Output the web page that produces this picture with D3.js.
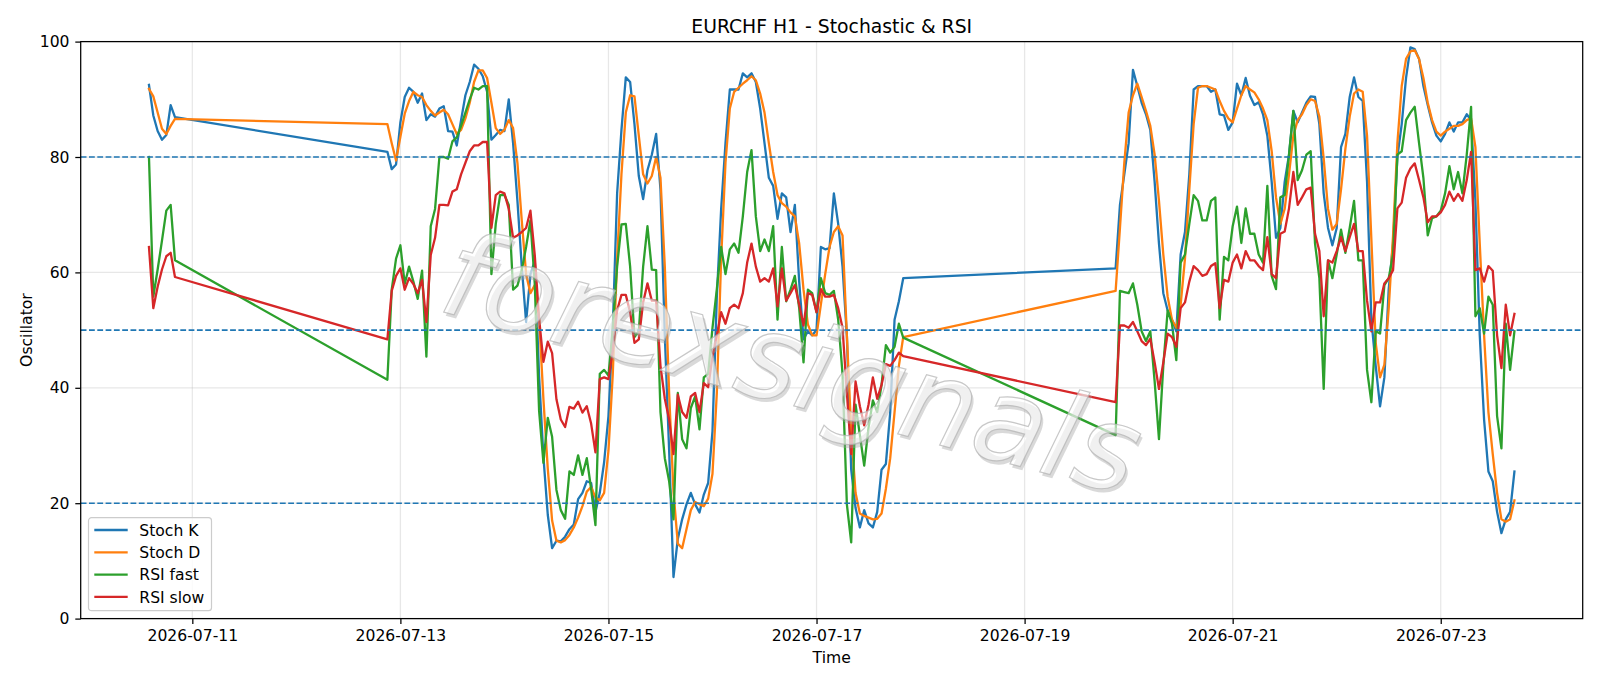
<!DOCTYPE html>
<html>
<head>
<meta charset="utf-8">
<script src="https://cdn.jsdelivr.net/npm/d3@7"></script>
<style>
	body { margin: 0; background: #fff; }
	svg { display: block; font-family: "DejaVu Sans", sans-serif; }
</style>
</head>
<body>
<svg id="chart"></svg>
<script>
// hourly bars, three trading blocks (weekends are skipped in the feed)
const segStarts = ["2026-07-10T14:00:00Z", "2026-07-12T21:00:00Z", "2026-07-19T21:00:00Z"];
const segHours = [7, 120, 93];

const stochK = [
	92.5, 87.2, 84.5, 83.0, 83.8, 89.0, 86.9,
	80.9, 77.9, 78.7,
	86, 90.4, 92, 91.3, 89.4, 91, 86.4, 87.4, 87, 88.4, 88.8, 84.5, 84.4, 82, 86.4, 90.7, 93, 96, 95.3, 94, 91.3, 83, 83.8, 84.7,
	84.5, 90, 82.4, 72.4, 61, 51.4, 59.7, 62, 42, 28, 18, 12.2, 13.5, 13.4, 14.2, 15.5, 16.3, 20.7, 21.8, 23.8, 23.5, 18.5, 21.8, 27.1,
	35.1, 50.4, 73.7, 84.7, 93.8, 93, 85.7, 76.7, 72.7, 77.7, 80.4, 84, 74.4, 49.1, 29.1, 7.2, 13.8, 17.2, 19.8, 21.8, 19.8, 18.4, 21.5, 23.5,
	32.5, 55.8, 71, 82.4, 91.7, 91.7, 91.7, 94.5, 93.8, 94.5, 93, 88.4, 82.4, 76.4, 75, 69.3, 73.7, 73, 67, 71.7, 58.4, 48.4, 49.8, 49.1,
	50, 64.4, 64, 64.2, 73.7, 68.4, 61, 49, 25.8, 19.2, 15.8, 18.8, 16.5, 15.8, 18.5, 25.8, 26.8, 35.8, 51.8, 55, 59,
	60.7, 71.7, 77,
	82.4, 95.1, 92.3, 89.4, 87.4, 84.7, 75.7, 65, 56.4, 53.4, 51.8, 49.8, 63.1, 67, 77, 91.7, 92.3, 92.3, 92.3, 91.3, 91.7, 87.4, 87.2, 84.7,
	86, 92.7, 90.7, 93.7, 90.6, 89, 89.5, 87.4, 83.7, 75.7, 66, 67.7, 75.7, 80.4, 88, 86, 87.7, 89.4, 90.5, 90.4, 85.7, 73.7, 67.7, 64.7,
	67.7, 81.7, 84, 90.4, 93.8, 90.4, 89.7, 75.7, 51.8, 43.8, 36.8, 41.8, 57.1, 65, 80, 85.7, 93.7, 99, 98.7, 97, 92.3, 89, 86, 83.7,
	82.7, 84, 86, 84.4, 86, 86, 87.4, 86.4, 72.4, 49.1, 34.5, 25.5, 23.8, 18.5, 14.8, 17.2, 18.5, 25.5
];

const stochD = [
	91.8, 90.5, 87.7, 84.9, 84.0, 85.4, 86.6,
	85.7, 82.4, 79.4,
	83.5, 87.5, 89.7, 91.3, 90.7, 90.4, 89, 88, 87.2, 87.7, 88.2, 87.4, 85.7, 84, 84.7, 86.7, 89.4, 93, 95, 95, 93.7, 89.4, 85, 84,
	84.7, 86.4, 85, 79, 69, 59.7, 56.4, 57.8, 52, 38, 26, 17, 13.5, 13.2, 13.6, 14.5, 15.8, 17.5, 19.5, 22, 22.8, 21, 20.5, 21.8,
	29.1, 42.4, 62.4, 77, 87.7, 90.7, 90.5, 83.7, 77, 75.4, 76.7, 80, 76.4, 61, 39, 22, 13, 12.2, 15.5, 18.8, 20.2, 19.8, 19.5, 20.8,
	25.1, 39.1, 62.4, 79, 88.4, 91.3, 92, 92.7, 93.3, 94, 93.3, 91, 87.7, 82.4, 77.4, 73.4, 72, 71.4, 70.4, 69.7, 65, 57, 51, 49.1,
	49.1, 54.4, 59.7, 64.4, 67, 68, 66.4, 49.1, 32.5, 21.8, 18.2, 17.8, 17.5, 17.2, 17.3, 18.2, 22.5, 27.8, 35.8, 43.8, 48.8,
	56.8, 67.7, 79,
	87.7, 90.7, 92.7, 90.4, 88, 85.4, 80.4, 72.4, 63.1, 55.8, 51.8, 50.4, 54.4, 62.4, 74.4, 85.7, 92, 92.3, 92.3, 92, 91.7, 89.7, 88, 86.7,
	86, 88.4, 90.7, 92.3, 91.7, 91.2, 90, 88.4, 86.4, 81, 73, 68.4, 71, 77, 83.7, 86.4, 87.4, 89, 90, 89.7, 87, 79.7, 71, 67.4,
	68.4, 74.4, 81.4, 87, 91, 91.7, 91.3, 83.7, 65.7, 47.8, 41.8, 44, 53.8, 66.4, 82.4, 92.3, 97, 98.3, 98.5, 97, 93.7, 89.4, 86.4, 84.4,
	83.7, 84.4, 84.9, 85.4, 85.4, 85.7, 86.4, 86.7, 81.7, 65, 49.1, 35.8, 28.5, 21.8, 17.2, 16.8, 17.2, 20.5
];

const rsiFast = [
	80.0, 55.8, 60.5, 65.5, 70.7, 71.7, 62.1,
	41.4, 57, 62.4,
	64.7, 58, 61, 58.4, 55.4, 60.3, 45.4, 68, 71, 80, 80, 79.7, 82.7, 83.4, 85.4, 87.7, 90, 92, 91.7, 92.3, 92.3, 59.7, 68.4, 73.4,
	73.4, 71.7, 57, 57.7, 60.4, 64.4, 69, 58, 36, 27, 34.8, 31.5, 22.3, 18.8, 17.3, 25.5, 24.9, 28.3, 24.9, 27.8, 22.5, 16.2, 42.4, 43.1,
	42.1, 50.4, 61, 68.3, 68.4, 61, 48.8, 49.8, 61, 68, 60.5, 60.4, 35.8, 27.8, 23.8, 17.2, 39.1, 31.1, 29.5, 36.5, 38.5, 32.8, 41.8, 42.4,
	50.4, 57.1, 64.4, 59.7, 64, 65, 63.4, 69.7, 77.4, 81.2, 69.7, 63.7, 65.7, 63.7, 68, 51.8, 64.4, 55, 57, 59.4, 53.8, 44.4, 57, 56.4,
	53.1, 59, 56.4, 56.1, 56.8, 51.8, 42.4, 19.8, 13.2, 37.1, 31.8, 26.5, 33.1, 37.8, 35.8, 40.5, 47.4, 46.1, 47.1, 51.1, 48.7,
	31.8, 56.8, 56.6,
	56.4, 58.1, 54.4, 49.8, 48.1, 49.8, 41.1, 31.1, 43.8, 53.4, 51.1, 44.8, 61.7, 63.1, 68.4, 73.4, 72.4, 69, 69, 72.4, 73, 51.8, 62.7, 62.1,
	68, 71.4, 65.1, 71.1, 66.7, 66.7, 63.1, 61.7, 75, 59.4, 57.1, 73, 73.4, 80.4, 88, 76, 77.7, 80.4, 81, 65, 59, 39.8, 62.1, 59,
	63.1, 67.4, 63.4, 67.7, 72.4, 62.1, 62.1, 43.1, 37.5, 49.8, 49.4, 57.8, 59, 63.1, 80.4, 81, 86.4, 87.7, 88.7, 82.4, 76.4, 66.4, 69.4, 69.7,
	70.7, 73.7, 78.4, 74.4, 77.4, 73.7, 80.4, 88.7, 52.4, 53.8, 49.4, 55.8, 54.4, 35.1, 29.5, 51.1, 43.1, 49.8
];

const rsiSlow = [
	64.4, 53.8, 57.5, 60.5, 62.8, 63.4, 59.2,
	48.4, 56.8, 59.4,
	60.7, 57, 59, 58, 56.4, 58.7, 51.4, 63, 66, 71.7, 71.7, 71.6, 74, 74.4, 77, 79, 81, 82, 82, 82.6, 82.6, 67.7, 73.4, 74,
	73.7, 71, 66, 66.4, 67, 67.7, 70.7, 63, 52, 44.5, 48, 46, 38, 34.5, 33.2, 36.7, 36.4, 37.6, 35.7, 36.8, 33.8, 28.8, 41.5, 41.8,
	41.5, 46.4, 53.4, 56.1, 56.1, 53.1, 47.8, 48.4, 54.8, 58.1, 55.1, 55.1, 43.8, 38.1, 34.5, 28.5, 38.8, 35.8, 34.8, 38.5, 39.1, 35.8, 40.8, 40.1,
	45.4, 49.1, 53.1, 51.1, 53.8, 54.4, 53.8, 56.4, 61.7, 65, 61, 58.4, 59, 58.4, 60.7, 54.1, 60.7, 55.1, 56.4, 57.8, 54.4, 50.8, 56.4, 56.1,
	53.1, 57.1, 55.8, 55.8, 56.1, 53.8, 50.4, 39.1, 28.5, 41.1, 36.8, 33.5, 37.1, 41.8, 38.1, 40.5, 44.1, 43.8, 44.8, 46.1, 45.5,
	37.5, 50.8, 50.8,
	50.4, 51.4, 49.8, 48.1, 47.4, 48.5, 44.4, 39.8, 44.4, 49.4, 48.8, 47.1, 53.8, 54.8, 58.4, 61.1, 60.4, 59.4, 59.7, 61.1, 61.6, 53.8, 58.7, 58.4,
	61.7, 63.1, 60.7, 63.7, 62.1, 62.1, 61.1, 60.4, 66.1, 59.7, 59, 66.7, 67.1, 71.1, 77.4, 71.7, 73, 74.4, 74.7, 66.7, 63.7, 52.4, 62.1, 61.7,
	63.7, 66.1, 63.7, 66.1, 68.4, 63.7, 63.7, 55.1, 49.8, 54.8, 54.8, 58.1, 59, 60.4, 71.1, 72.1, 76.4, 78, 78.9, 76, 73, 68.7, 69.7, 69.7,
	70.4, 71.7, 74, 72.4, 73.6, 72.4, 76, 80.9, 60.4, 60.7, 58.4, 61.1, 60.3, 49.1, 43.4, 54.4, 49.1, 52.8
];

const seriesNames = ["Stoch K", "Stoch D", "RSI fast", "RSI slow"];
const seriesColors = ["#1f77b4", "#ff7f0e", "#2ca02c", "#d62728"];
const levels = [80, 50, 20];
const xTickDates = ["2026-07-11", "2026-07-13", "2026-07-15", "2026-07-17", "2026-07-19", "2026-07-21", "2026-07-23"];
const yTicks = [0, 20, 40, 60, 80, 100];

const svgWidth = 1600, svgHeight = 686;
const plotLeft = 80.7, plotRight = 1582.7, plotTop = 41.6, plotBottom = 618.6;

// timestamps for every bar
let times = [];
segStarts.forEach((s, i) => {
	let t0 = new Date(s);
	for (let h = 0; h < segHours[i]; h++)
		times.push(d3.utcHour.offset(t0, h));
});

let svg = d3.select("#chart")
	.attr("width", svgWidth)
	.attr("height", svgHeight);

let tMin = times[0], tMax = times[times.length - 1];
let pad = (tMax - tMin) * 0.05;
let x = d3.scaleUtc()
	.domain([new Date(+tMin - pad), new Date(+tMax + pad)])
	.range([plotLeft, plotRight]);
let y = d3.scaleLinear()
	.domain([0, 100])
	.range([plotBottom, plotTop]);

let tickDates = xTickDates.map(d => new Date(d + "T00:00:00Z"));

// grid
let grid = svg.append("g");
grid.selectAll("line.gx")
	.data(tickDates)
	.join("line")
	.attr("class", "gx")
	.attr("x1", d => x(d)).attr("x2", d => x(d))
	.attr("y1", plotTop).attr("y2", plotBottom);
grid.selectAll("line.gy")
	.data(yTicks)
	.join("line")
	.attr("class", "gy")
	.attr("x1", plotLeft).attr("x2", plotRight)
	.attr("y1", d => y(d)).attr("y2", d => y(d));
grid.selectAll("line")
	.attr("stroke", "#b0b0b0")
	.attr("stroke-opacity", 0.3)
	.attr("stroke-width", 1.25);

// series
let allSeries = [stochK, stochD, rsiFast, rsiSlow];
let lineGenerator = d3.line()
	.x((d, i) => x(times[i]))
	.y(d => y(d));

svg.append("g")
	.selectAll("path")
	.data(allSeries)
	.join("path")
	.attr("d", d => lineGenerator(d))
	.attr("fill", "none")
	.attr("stroke", (d, i) => seriesColors[i])
	.attr("stroke-width", 2.3)
	.attr("stroke-linejoin", "round")
	.attr("stroke-linecap", "square");

// overbought / mid / oversold
svg.append("g")
	.selectAll("line")
	.data(levels)
	.join("line")
	.attr("x1", plotLeft).attr("x2", plotRight)
	.attr("y1", d => y(d)).attr("y2", d => y(d))
	.attr("stroke", "#1f77b4")
	.attr("stroke-width", 1.55)
	.attr("stroke-dasharray", "5.8,2.5");

// watermark
let wm = svg.append("g")
	.attr("transform", "translate(792,363) rotate(15)")
	.attr("font-size", 118)
	.attr("font-style", "italic")
	.attr("text-anchor", "middle")
	.attr("dominant-baseline", "central");
wm.append("text")
	.attr("x", 3).attr("y", 3)
	.attr("fill", "#a0a0a0")
	.attr("fill-opacity", 0.4)
	.text("forexsignals");
wm.append("text")
	.attr("fill", "#ffffff")
	.attr("fill-opacity", 0.6)
	.attr("stroke", "#b0b0b0")
	.attr("stroke-opacity", 0.7)
	.attr("stroke-width", 1.2)
	.text("forexsignals");

// axes
let xAxis = svg.append("g")
	.attr("transform", "translate(0," + plotBottom + ")")
	.call(d3.axisBottom(x).tickValues(tickDates).tickFormat(d3.utcFormat("%Y-%m-%d")).tickSizeOuter(0).tickSize(5.4).tickPadding(5.8));
let yAxis = svg.append("g")
	.attr("transform", "translate(" + plotLeft + ",0)")
	.call(d3.axisLeft(y).tickValues(yTicks).tickSizeOuter(0).tickSize(5.4).tickPadding(5.8));
[xAxis, yAxis].forEach(a => {
	a.select(".domain").remove();
	a.selectAll("line").attr("stroke", "#000").attr("stroke-width", 1.25);
	a.selectAll("text").attr("font-size", 15.6).attr("fill", "#000").attr("font-family", "DejaVu Sans");
});

// frame
svg.append("rect")
	.attr("x", plotLeft).attr("y", plotTop)
	.attr("width", plotRight - plotLeft).attr("height", plotBottom - plotTop)
	.attr("fill", "none")
	.attr("stroke", "#000")
	.attr("stroke-width", 1.25);

// labels
svg.append("text")
	.attr("x", (plotLeft + plotRight) / 2).attr("y", 33)
	.attr("text-anchor", "middle")
	.attr("font-size", 18.8)
	.text("EURCHF H1 - Stochastic & RSI");
svg.append("text")
	.attr("x", (plotLeft + plotRight) / 2).attr("y", 663)
	.attr("text-anchor", "middle")
	.attr("font-size", 15.6)
	.text("Time");
svg.append("text")
	.attr("transform", "translate(31.5," + (plotTop + plotBottom) / 2 + ") rotate(-90)")
	.attr("text-anchor", "middle")
	.attr("font-size", 15.6)
	.text("Oscillator");

// legend
let legend = svg.append("g").attr("transform", "translate(88.5,517.7)");
legend.append("rect")
	.attr("width", 123).attr("height", 93)
	.attr("rx", 3)
	.attr("fill", "#fff").attr("fill-opacity", 0.8)
	.attr("stroke", "#cccccc").attr("stroke-width", 1.2);
let rows = legend.selectAll("g.row")
	.data(seriesNames)
	.join("g")
	.attr("class", "row")
	.attr("transform", (d, i) => "translate(0," + (12.3 + i * 22.3) + ")");
rows.append("line")
	.attr("x1", 5.8).attr("x2", 39.2)
	.attr("stroke", (d, i) => seriesColors[i])
	.attr("stroke-width", 2.3);
rows.append("text")
	.attr("x", 50.8).attr("y", 5.7)
	.attr("font-size", 15.6)
	.text(d => d);
</script>
</body>
</html>
